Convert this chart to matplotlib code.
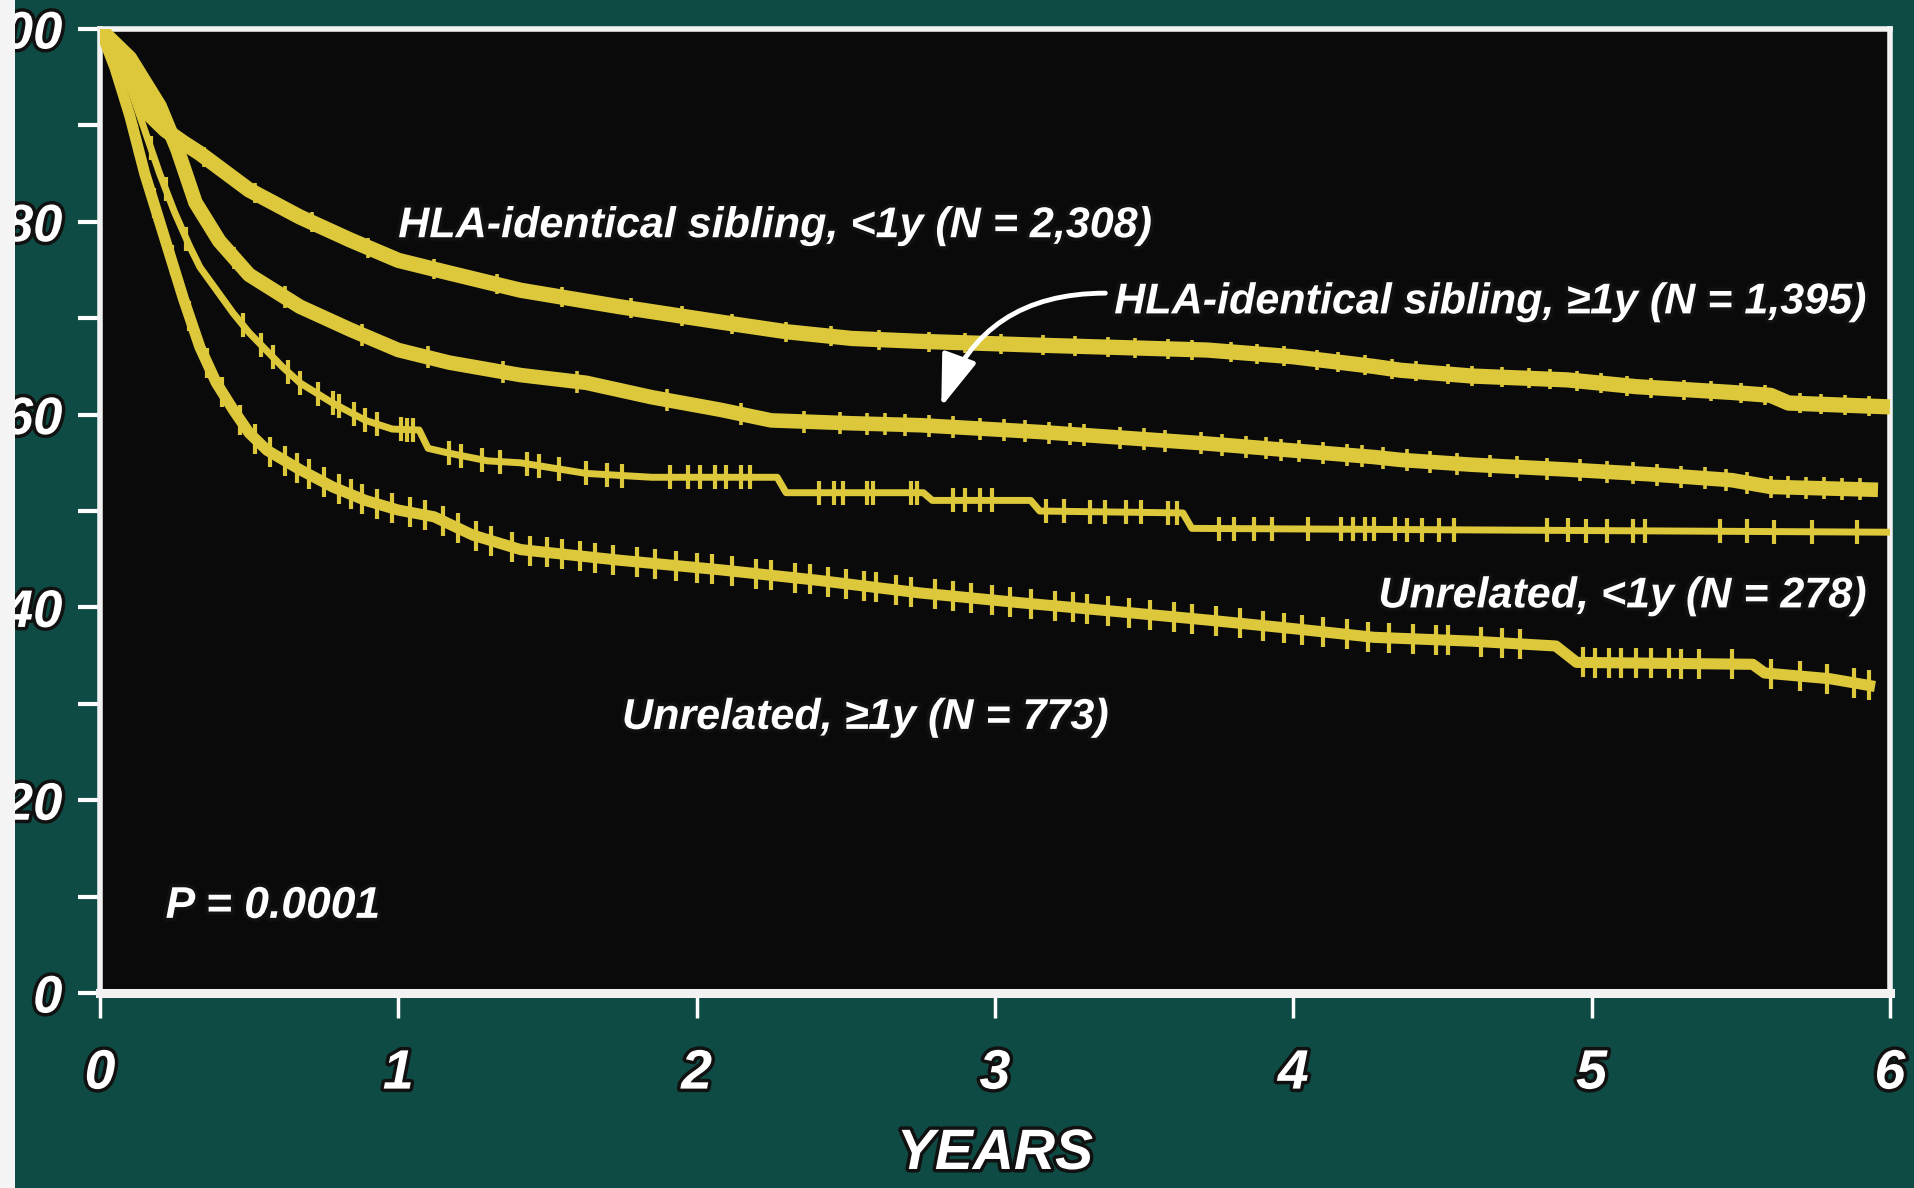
import numpy as np
import matplotlib
matplotlib.use("Agg")
import matplotlib.pyplot as plt
import matplotlib.patheffects as pe
from matplotlib.patches import Rectangle

# survival curves (years, % surviving)
sib_lt1_t = [0, 0.05, 0.1, 0.17, 0.22, 0.28, 0.335, 0.5, 0.67, 0.84, 1.0, 1.17, 1.41, 1.74, 2.08, 2.3,
             2.52, 2.75, 3.15, 3.71, 4.0, 4.27, 4.36, 4.6, 4.92, 5.15, 5.47, 5.6, 5.66, 6.0]
sib_lt1_s = [100, 97.5, 95, 91, 89.5, 88.2, 87.1, 83.3, 80.5, 78.1, 76.0, 74.7, 72.9, 71.2, 69.6, 68.6,
             67.9, 67.6, 67.2, 66.7, 66.0, 65.0, 64.6, 64.0, 63.6, 62.9, 62.3, 62.0, 61.2, 60.8]
sib_lt1_cens = [0.35, 0.52, 0.71, 0.9, 1.12, 1.33, 1.55, 1.78, 1.95, 2.12, 2.3, 2.45, 2.61, 2.78, 2.9,
                3.02, 3.16, 3.27, 3.38, 3.47, 3.58, 3.66, 3.79, 3.88, 3.97, 4.08, 4.15, 4.24, 4.33, 4.41,
                4.52, 4.6, 4.7, 4.79, 4.86, 4.95, 5.03, 5.12, 5.2, 5.31, 5.4, 5.5, 5.58, 5.7, 5.77, 5.85, 5.93]

sib_ge1_t = [0, 0.1, 0.2, 0.26, 0.32, 0.4, 0.5, 0.67, 0.84, 1.0, 1.17, 1.41, 1.63, 1.85, 2.08, 2.25,
             2.52, 2.75, 3.15, 3.71, 4.27, 4.36, 4.6, 4.92, 5.2, 5.47, 5.6, 5.96]
sib_ge1_s = [100, 97, 92, 87.5, 82, 78, 74.5, 71.2, 68.8, 66.7, 65.4, 64.1, 63.3, 61.8, 60.5, 59.4,
             59.1, 58.9, 58.2, 57.0, 55.6, 55.3, 54.8, 54.3, 53.8, 53.2, 52.5, 52.2]
sib_ge1_cens = [0.45, 0.62, 0.88, 1.1, 1.35, 1.6, 1.9, 2.15, 2.36, 2.48, 2.57, 2.63, 2.7, 2.78, 2.86,
                2.95, 3.03, 3.1, 3.18, 3.25, 3.3, 3.42, 3.5, 3.57, 3.69, 3.76, 3.84, 3.91, 3.96, 4.02,
                4.1, 4.18, 4.23, 4.3, 4.38, 4.46, 4.55, 4.66, 4.75, 4.85, 4.96, 5.05, 5.14, 5.22, 5.3,
                5.38, 5.45, 5.52, 5.6, 5.66, 5.72, 5.78, 5.84, 5.9]

unrel_lt1_t = [0, 0.1, 0.2, 0.25, 0.3, 0.335, 0.447, 0.5, 0.61, 0.67, 0.78, 0.89, 0.98, 1.07, 1.10,
               1.17, 1.3, 1.41, 1.63, 1.85, 2.27, 2.30, 2.76, 2.79, 3.12, 3.15, 3.63, 3.66, 6.0]
unrel_lt1_s = [100, 94, 85, 81, 77.5, 75.3, 70.5, 68.5, 65, 63.3, 61.2, 59.4, 58.5, 58.4, 56.5,
               56.0, 55.2, 55.0, 53.9, 53.5, 53.5, 51.9, 51.9, 51.1, 51.1, 50.0, 49.8, 48.2, 47.8]
unrel_lt1_cens = [0.17, 0.22, 0.29, 0.48, 0.54, 0.58, 0.63, 0.67, 0.73, 0.78, 0.80, 0.85, 0.89, 0.93,
                  1.01, 1.03, 1.05, 1.17, 1.21, 1.28, 1.34, 1.43, 1.47, 1.54, 1.63, 1.70, 1.75, 1.91,
                  1.97, 2.01, 2.06, 2.10, 2.15, 2.18, 2.41, 2.46, 2.49, 2.57, 2.59, 2.72, 2.74, 2.86,
                  2.90, 2.95, 2.99, 3.17, 3.23, 3.32, 3.37, 3.44, 3.49, 3.58, 3.61, 3.75, 3.80,
                  3.87, 3.93, 4.05, 4.16, 4.20, 4.24, 4.27, 4.34, 4.38, 4.43, 4.49, 4.54, 4.85, 4.92,
                  4.98, 5.05, 5.14, 5.18, 5.43, 5.52, 5.61, 5.74, 5.89]

unrel_ge1_t = [0, 0.05, 0.1, 0.15, 0.22, 0.28, 0.335, 0.39, 0.447, 0.5, 0.56, 0.67, 0.78, 0.89, 1.0,
               1.12, 1.25, 1.41, 1.74, 2.08, 2.41, 2.75, 3.08, 3.4, 3.71, 4.0, 4.27, 4.6, 4.88, 4.95,
               5.54, 5.58, 5.8, 5.95]
unrel_ge1_s = [100, 96, 91, 85, 78, 72, 67, 63.3, 60.5, 58.1, 56.3, 54.3, 52.5, 51.1, 50.1,
               49.4, 47.5, 46.0, 44.9, 43.9, 42.8, 41.5, 40.5, 39.6, 38.7, 37.8, 36.9, 36.5, 36.0, 34.3,
               34.1, 33.2, 32.6, 31.8]
unrel_ge1_cens = [0.12, 0.18, 0.24, 0.3, 0.36, 0.41, 0.47, 0.52, 0.57, 0.62, 0.66, 0.7, 0.75, 0.8, 0.84,
                  0.88, 0.93, 0.98, 1.04, 1.09, 1.15, 1.2, 1.26, 1.31, 1.38, 1.44, 1.5, 1.55, 1.61, 1.66,
                  1.72, 1.8, 1.86, 1.93, 2.0, 2.05, 2.12, 2.2, 2.25, 2.33, 2.38, 2.44, 2.5, 2.56, 2.6,
                  2.67, 2.72, 2.8, 2.86, 2.92, 2.99, 3.05, 3.12, 3.2, 3.26, 3.31, 3.38, 3.45, 3.52, 3.6,
                  3.66, 3.74, 3.82, 3.9, 3.97, 4.03, 4.1, 4.18, 4.25, 4.32, 4.4, 4.48, 4.52, 4.63, 4.7,
                  4.76, 4.97, 5.01, 5.06, 5.1, 5.15, 5.2, 5.26, 5.3, 5.36, 5.47, 5.6, 5.7, 5.79, 5.88, 5.93]

labels = ["HLA-identical sibling, <1y (N = 2,308)", "HLA-identical sibling, \u22651y (N = 1,395)",
          "Unrelated, <1y (N = 278)", "Unrelated, \u22651y (N = 773)"]
x_ticks = [0, 1, 2, 3, 4, 5, 6]
y_ticks = [0, 20, 40, 60, 80, 100]
y_minor = [10, 30, 50, 70, 90]

YEL = "#DCC83A"
TEAL = "#0E4B44"
plt.rcParams["font.family"] = ["Liberation Sans", "DejaVu Sans"]
plt.rcParams["font.weight"] = "bold"
plt.rcParams["font.style"] = "italic"

fig = plt.figure(figsize=(19.15, 11.88), dpi=100, facecolor=TEAL)
ax = fig.add_axes([0.0522, 0.1641, 0.9347, 0.8115])
ax.set_facecolor("#0A0A0A")

glow = [pe.withStroke(linewidth=5, foreground="#111111")]

def km(t, s, cens, lw, ms, mew):
    ax.plot(t, s, color=YEL, lw=lw, solid_capstyle="butt", solid_joinstyle="round", zorder=3)
    ax.plot(cens, np.interp(cens, t, s), ls="none", marker="|", ms=ms, mew=mew, color=YEL, zorder=3)

km(sib_lt1_t, sib_lt1_s, sib_lt1_cens, 11, 15, 2.6)
km(sib_ge1_t, sib_ge1_s, sib_ge1_cens, 10.5, 16, 2.6)
km(unrel_lt1_t, unrel_lt1_s, unrel_lt1_cens, 5, 17, 3)
km(unrel_ge1_t, unrel_ge1_s, unrel_ge1_cens, 8, 21, 3)

ax.set_xlim(0, 6)
ax.set_ylim(0, 100)
ax.set_xticks(x_ticks)
ax.set_yticks(y_ticks)
ax.set_yticks(y_minor, minor=True)
ax.tick_params(axis="y", which="both", direction="out", length=16, width=3, color="white",
               pad=11, labelsize=38, labelcolor="white")
ax.tick_params(axis="x", direction="out", length=18, width=2.5, color="white",
               pad=22, labelsize=40, labelcolor="white")
for lab in ax.get_xticklabels() + ax.get_yticklabels():
    lab.set_path_effects(glow)

for side, w in [("top", 4), ("bottom", 6.5), ("left", 4), ("right", 4)]:
    ax.spines[side].set_color("#F2F2F2")
    ax.spines[side].set_linewidth(w)

txt = dict(color="white", fontsize=31, path_effects=glow, zorder=5)
ax.text(1.00, 78.4, labels[0], ha="left", va="baseline", **txt)
ax.text(3.40, 70.5, labels[1], ha="left", va="baseline", **txt)
ax.text(5.92, 40.0, labels[2], ha="right", va="baseline", **txt)
ax.text(1.75, 27.4, labels[3], ha="left", va="baseline", **txt)
ax.text(0.22, 7.8, "P = 0.0001", ha="left", va="baseline", color="white", fontsize=32,
        path_effects=glow, zorder=5)

ax.annotate("", xy=(2.82, 60.8), xytext=(3.37, 72.6),
            arrowprops=dict(arrowstyle="-|>,head_length=1.6,head_width=0.55", color="white", lw=3.5,
                            mutation_scale=20, shrinkA=0, shrinkB=0,
                            connectionstyle="angle3,angleA=0,angleB=70"), zorder=5)

fig.text(995 / 1915, 1 - 1154 / 1188, "YEARS", ha="center", va="center", color="white",
         fontsize=41, path_effects=glow)

# light border of the slide scan on the left edge
fig.add_artist(Rectangle((0, 0), 15 / 1915, 1, transform=fig.transFigure, facecolor="#F4F4F4",
                         edgecolor="none", zorder=10))

fig.savefig("out.png", dpi=100, facecolor=TEAL)
